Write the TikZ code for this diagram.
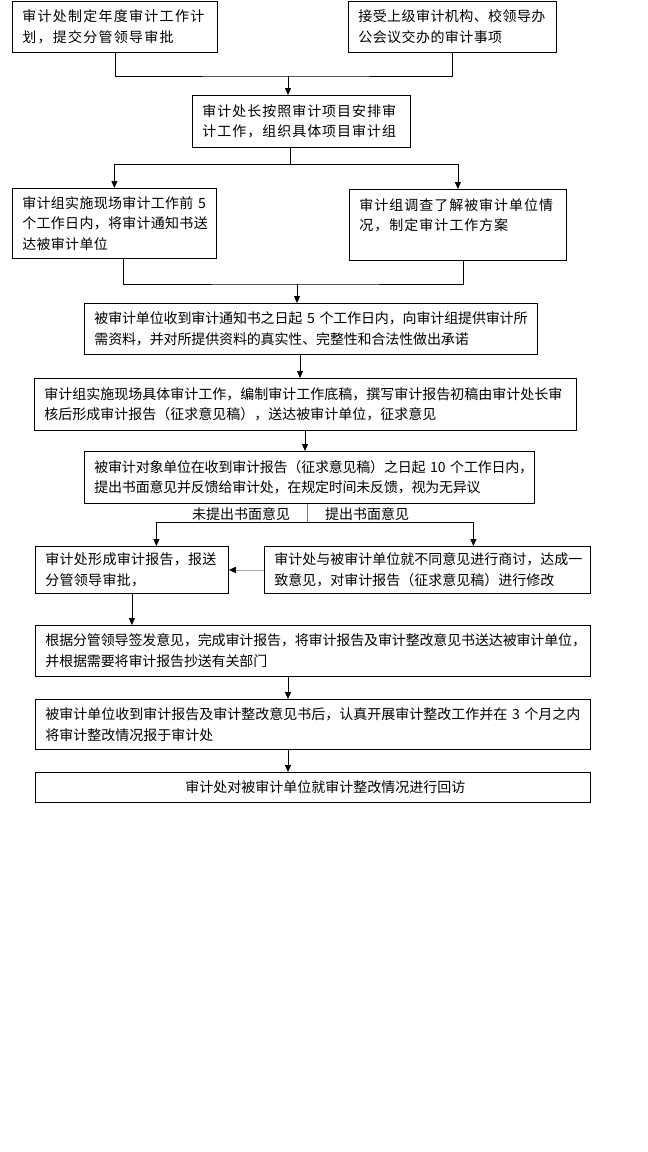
\documentclass[tikz,border=0pt]{standalone}
\usepackage{fontspec}
\setmainfont{Noto Sans CJK SC}
\usetikzlibrary{arrows.meta}
\begin{document}
\begin{tikzpicture}[x=1pt,y=-1pt,
  txt/.style={font=\fontsize{14pt}{20.5pt}\selectfont},
  sp/.style={font=\fontsize{14pt}{20.5pt}\selectfont\addfontfeature{LetterSpace=#1}},
  box/.style={txt,draw=black,line width=0.8pt,rectangle,anchor=north west,
    inner xsep=10pt,inner ysep=0pt,align=left},
  ln/.style={draw=black,line width=0.8pt},
  arr/.style={ln,-{Triangle[length=7pt,width=6pt,black]}},
  lab/.style={txt,inner sep=0pt}]
\useasboundingbox (0,0) rectangle (648,1152);
\fill[white] (0,0) rectangle (648,1152);

\node[box,sp=9,minimum width=205pt,minimum height=51pt,text width=185pt] (b1) at (12,1)
  {审计处制定年度审计工作计\\划，提交分管领导审批};
\node[box,sp=3,minimum width=208pt,minimum height=51pt,text width=188pt] (b2) at (348,1)
  {接受上级审计机构、校领导办\\公会议交办的审计事项};
\node[box,sp=7,minimum width=218pt,minimum height=52pt,text width=198pt] (b3) at (192,95)
  {审计处长按照审计项目安排审\\计工作，组织具体项目审计组};
\node[box,sp=2,minimum width=204pt,minimum height=70pt,text width=184pt] (b4) at (12,188)
  {审计组实施现场审计工作前~5\\个工作日内，将审计通知书送\\达被审计单位};
\node[box,sp=7,minimum width=217pt,minimum height=71pt,text width=197pt] (b5) at (349,189)
  {审计组调查了解被审计单位情\\况，制定审计工作方案\\\mbox{}};
\node[box,sp=-1,minimum width=453pt,minimum height=51pt,text width=433pt] (b6) at (84,303)
  {被审计单位收到审计通知书之日起~5~个工作日内，向审计组提供审计所\\需资料，并对所提供资料的真实性、完整性和合法性做出承诺};
\node[box,minimum width=542pt,minimum height=52pt,text width=522pt] (b7) at (34,378)
  {审计组实施现场具体审计工作，编制审计工作底稿，撰写审计报告初稿由审计处长审\\核后形成审计报告（征求意见稿），送达被审计单位，征求意见};
\node[box,sp=-1.5,minimum width=450pt,minimum height=52pt,text width=430pt] (b8) at (84,451)
  {被审计对象单位在收到审计报告（征求意见稿）之日起~10~个工作日内，\\提出书面意见并反馈给审计处，在规定时间未反馈，视为无异议};
\node[lab] (l1) at (241,514) {未提出书面意见};
\node[lab] (l2) at (367,514) {提出书面意见};
\node[box,sp=2,minimum width=193pt,minimum height=47pt,text width=173pt] (b9) at (35,546)
  {审计处形成审计报告，报送\\分管领导审批，};
\node[box,minimum width=326pt,minimum height=47pt,text width=306pt] (b10) at (264,546)
  {审计处与被审计单位就不同意见进行商讨，达成一\\致意见，对审计报告（征求意见稿）进行修改};
\node[box,sp=-1,minimum width=555pt,minimum height=51pt,text width=535pt] (b11) at (35,625)
  {根据分管领导签发意见，完成审计报告，将审计报告及审计整改意见书送达被审计单位，\\并根据需要将审计报告抄送有关部门};
\node[box,minimum width=555pt,minimum height=50pt,text width=535pt] (b12) at (35,699)
  {被审计单位收到审计报告及审计整改意见书后，认真开展审计整改工作并在~3~个月之内\\将审计整改情况报于审计处};
\node[box,minimum width=555pt,minimum height=30pt,text width=535pt] (b13) at (35,772)
  {\hspace*{140pt}审计处对被审计单位就审计整改情况进行回访};

% connectors
\coordinate (j1) at (288,76);
\draw[ln] (b1.south) |- (j1) -| (b2.south);
\draw[arr] (j1) -- (j1 |- b3.north);

\coordinate (j2) at (290,164);
\draw[ln] (j2 |- b3.south) -- (j2);
\draw[arr] (j2) -| (b4.north);
\draw[arr] (j2) -| (b5.north);

\coordinate (j3) at (297,284);
\draw[ln] ([xshift=9pt]b4.south) |- (j3) -| ([xshift=5.5pt]b5.south);
\draw[arr] (j3) -- (j3 |- b6.north);

\coordinate (x300) at (300,0);
\draw[arr] (b6.south -| x300) -- (b7.north -| x300);
\coordinate (x305) at (305,0);
\draw[arr] (b7.south -| x305) -- (b8.north -| x305);

\coordinate (j4) at (307,522);
\draw[ln,draw=gray] (b8.south -| j4) -- (j4);
\draw[arr] (j4) -| ([xshift=24.5pt]b9.north);
\draw[arr] (j4) -| ([xshift=46pt]b10.north);
\draw[arr,draw=gray!70] (b10.west) -- (b10.west -| b9.east);
\draw[arr] (b9.south) -- (b9.south |- b11.north);

\coordinate (x288) at (288,0);
\draw[arr] (b11.south -| x288) -- (b12.north -| x288);
\draw[arr] (b12.south -| x288) -- (b13.north -| x288);
\end{tikzpicture}
\end{document}
